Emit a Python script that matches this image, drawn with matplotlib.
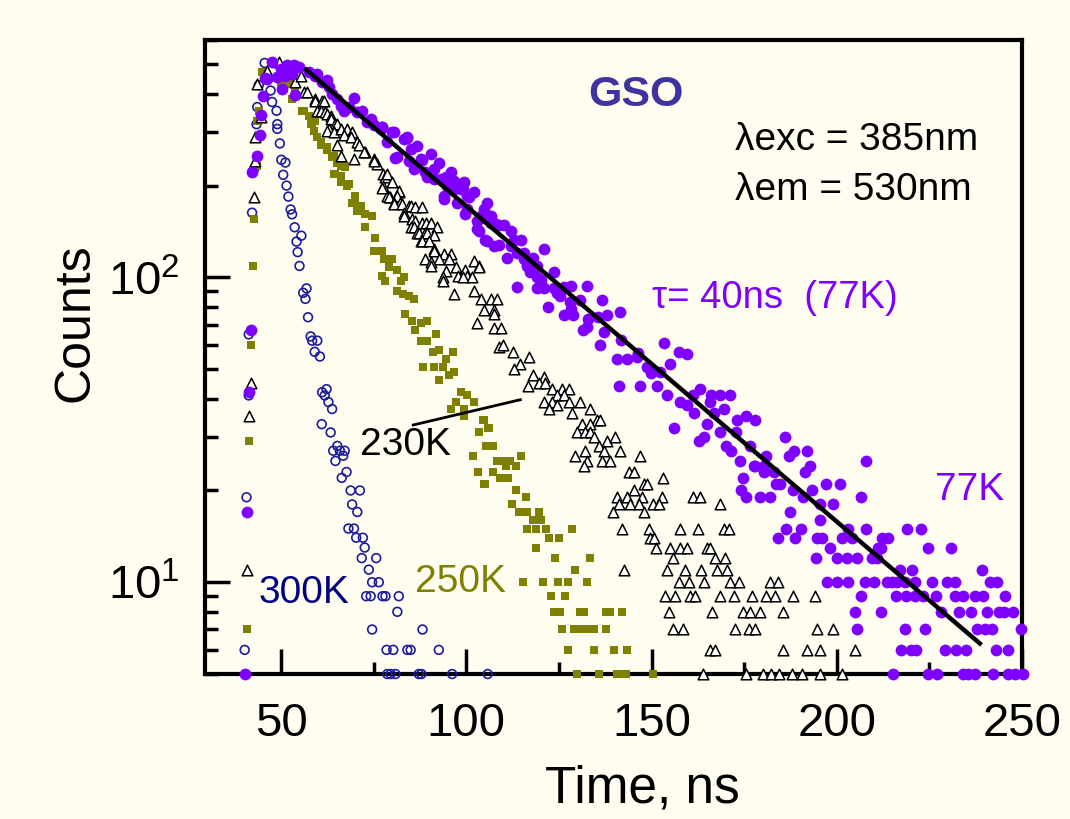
import numpy as np
import matplotlib.pyplot as plt
from matplotlib.ticker import FixedLocator, FixedFormatter, LogLocator, NullFormatter

plt.rcParams['font.family'] = ['Liberation Sans', 'DejaVu Sans']
plt.rcParams['mathtext.fontset'] = 'custom'
plt.rcParams['mathtext.rm'] = 'Liberation Sans'

# ---- data (time in ns, counts) ----
t_300 = [40.2, 40.7, 41.3, 41.3, 42.2, 42.7, 43.4, 43.6, 44.0, 45.6, 47.2, 47.6, 48.8, 49.0, 49.0,
         49.7, 50.1, 51.2, 50.6, 51.5, 52.0, 52.6, 53.0, 53.7, 55.5, 54.2, 54.5, 55.0,
         56.9, 56.0, 56.6, 57.3, 58.0, 58.4, 59.8, 59.1, 60.5, 61.1, 62.3, 61.8, 62.8, 63.8,
         61.0, 63.4, 65.2, 64.1, 65.9, 67.2, 64.7, 66.8, 67.7, 66.4, 68.8, 71.3, 69.2, 70.6,
         68.2, 69.7, 70.3, 72.1, 72.6, 71.8, 75.7, 73.7, 74.6, 76.4, 73.0, 74.2, 77.4, 78.2,
         81.8, 81.4, 74.6, 88.2, 78.5, 80.3, 84.1, 85.0, 92.6, 78.7, 79.6, 80.9, 87.2, 87.9,
         96.2, 105.8]
n_300 = [6, 19, 41, 65, 163, 226, 318, 362, 427, 505, 410, 376, 352, 318, 307,
         275, 243, 238, 217, 200, 184, 167, 161, 146, 137, 131, 121, 109,
         92, 89, 85, 74, 64, 62, 62, 57, 55, 42, 43, 41, 39, 37,
         33, 31, 28, 27, 27, 27, 25, 26, 23, 22, 20, 20, 18, 17,
         15, 15, 14, 14, 13, 12, 12, 11, 10, 10, 9, 9, 9, 9,
         9, 8, 7, 7, 6, 6, 6, 6, 6, 5, 5, 5, 5, 5,
         5, 5]

t_250 = [40.9, 41.5, 41.8, 42.5, 42.7, 43.4, 43.6, 44.0, 44.9,
         49.9, 52.1, 53.0, 53.9, 55.7, 56.2, 57.5, 58.0, 58.4, 59.3, 58.9, 59.8, 60.7, 60.7,
         62.5, 62.5, 63.8, 64.3, 65.2, 66.1, 67.4, 64.3, 64.7, 66.1, 66.1, 66.1, 67.4, 68.3,
         67.9, 70.1, 69.7, 71.0, 70.1, 69.3, 71.5, 70.6, 72.8, 74.6, 72.6, 75.5, 75.0, 77.3,
         77.7, 80.0, 79.1, 81.4, 77.3, 83.2, 78.2, 82.3, 81.4, 82.8, 84.5, 85.9, 83.6, 85.4,
         87.7, 89.5, 86.3, 87.7, 89.5, 91.8, 90.9, 92.6, 94.5, 88.2, 91.3, 93.6, 96.3, 96.7,
         95.4, 92.6, 98.5, 100.3, 97.2, 95.8, 99.4, 102.1, 99.4, 104.4, 104.8, 103.5, 105.8,
         106.1, 105.3, 107.1, 101.8, 114.7, 108.3, 110.6, 111.9, 108.8, 110.6, 113.3, 103.2,
         107.2, 109.0, 111.3, 104.8, 105.0, 113.3, 116.0, 112.4, 114.2, 116.5, 119.6, 117.9,
         120.1, 116.5, 118.7, 121.4, 128.5, 122.3, 125.0, 118.7, 124.0, 133.5, 129.4,
         115.3, 120.6, 124.7, 127.4, 132.7, 122.9, 126.7,
         123.6, 125.4, 130.8, 131.7, 137.6, 138.9, 142.0,
         125.8, 129.0, 130.8, 132.6, 134.4, 137.6,
         127.4, 134.4, 140.0, 143.4,
         129.9, 135.8, 140.7, 142.0, 143.0, 150.4]
n_250 = [7, 29, 60, 109, 155, 232, 326, 352, 471,
         437, 431, 385, 405, 352, 352, 339, 318, 318, 326, 303, 288, 277, 272,
         267, 261, 248, 251, 238, 232, 232, 218, 218, 215, 205, 208, 230, 202,
         200, 185, 176, 172, 181, 176, 172, 165, 161, 159, 146, 135, 122, 122,
         115, 115, 108, 106, 101, 100, 97, 97, 90, 88, 87, 85, 76, 72,
         71, 72, 67, 62, 62, 65, 57, 58, 54, 51, 51, 51, 57, 49,
         48, 46, 42, 41, 39, 37, 37, 39, 35, 34, 34, 31, 32,
         32, 28, 28, 26, 26, 25, 25, 25, 25, 24, 24, 23,
         23, 22, 22, 21, 21, 20, 19, 18, 17, 17, 17, 16,
         16, 15, 15, 15, 15, 14, 14, 13, 12, 12, 11,
         10, 10, 10, 10, 10, 9, 9,
         8, 8, 8, 8, 8, 8, 8,
         7, 7, 7, 7, 7, 7,
         6, 6, 6, 6,
         5, 5, 5, 5, 5, 5]

t_230 = [40.9, 41.3, 41.8, 42.6, 43.1, 43.1, 44.5, 43.6, 46.3, 49.4,
         52.1, 53.9, 55.3, 56.2, 57.1, 59.3, 59.3, 61.1, 61.6, 59.8, 60.7, 62.0, 62.5, 63.4,
         63.4, 64.7, 65.2, 62.9, 62.5, 64.3, 66.1, 67.9, 69.2, 67.0, 68.8, 70.6, 65.2, 71.0,
         72.8, 72.4, 66.1, 69.7, 75.1, 76.0, 75.1, 77.4, 78.2, 78.7, 77.6, 78.7, 77.3, 80.0,
         81.8, 81.8, 79.5, 79.1, 81.4, 80.4, 82.2, 80.4, 82.7, 84.5, 85.0, 86.3, 88.1, 83.2,
         83.2, 85.4, 86.3, 88.1, 89.1, 90.4, 85.0, 85.9, 92.0, 86.8, 87.2, 89.0, 89.5, 91.3,
         87.7, 88.1, 89.9, 91.3, 91.3, 94.0, 95.8, 89.0, 92.6, 95.4, 90.4, 90.4, 102.0, 103.4,
         103.4, 97.2, 94.5, 99.7, 97.9, 100.1, 101.6, 93.6, 99.0, 93.6, 96.7, 102.0, 104.0,
         106.6, 108.3, 104.9, 107.6, 107.6, 102.9, 107.6, 109.3, 108.8,
         110.0, 112.5, 114.5, 117.0, 113.0, 118.0, 121.0,
         116.8, 119.5, 121.3, 123.1, 125.8, 127.6, 124.5, 126.3, 121.0, 123.2, 124.6, 127.7,
         130.8, 133.5, 122.3, 128.6, 135.3, 136.2, 131.2, 133.5, 129.9, 132.1, 133.5, 134.4,
         138.0, 140.2, 135.8, 137.1, 141.6, 129.4, 132.1, 132.6, 136.6, 138.9, 147.0, 131.7,
         143.8, 145.2, 153.2, 147.9, 148.8, 145.2,
         140.7, 143.4, 147.4, 152.8, 161.3, 163.1,
         141.1, 144.3, 146.5, 150.5, 151.9, 168.4,
         139.6, 147.9,
         142.0, 149.2, 157.6, 162.6, 169.5, 170.8,
         149.7, 150.6,
         151.1, 155.1, 157.8, 159.6, 165.0, 165.7,
         155.7, 167.2, 169.9,
         142.5, 154.2, 159.1, 163.3, 167.6, 170.4,
         157.3, 160.0, 164.2, 171.2, 173.5, 182.0, 184.0,
         153.7, 156.4, 160.4, 161.8, 168.6, 172.2, 177.1, 181.0, 183.2, 188.3, 194.2,
         154.6, 166.3, 174.6, 176.6, 179.3, 185.6,
         155.9, 158.6, 172.6, 176.2, 178.0, 194.6, 199.1,
         165.9, 167.2, 185.6, 191.9, 195.5, 204.8,
         164.0, 175.5, 180.2, 182.3, 184.5, 187.9, 190.6, 195.4, 201.4]
n_230 = [11, 35, 45, 183, 241, 288, 335, 431, 477, 508,
         490, 437, 459, 405, 405, 385, 380, 380, 380, 352, 352, 349, 344, 339,
         331, 318, 318, 307, 303, 299, 307, 307, 299, 292, 288, 277, 272, 272,
         257, 257, 251, 244, 244, 235, 241, 218, 213, 218, 199, 185, 197, 205,
         190, 192, 183, 183, 185, 176, 176, 174, 174, 172, 172, 170, 170, 163,
         159, 155, 153, 151, 151, 151, 146, 146, 146, 140, 140, 140, 140, 138,
         132, 132, 132, 124, 122, 119, 119, 115, 115, 115, 112, 109, 113, 109,
         108, 108, 105, 106, 101, 101, 100, 100, 100, 97, 88, 90, 85,
         85, 85, 78, 78, 76, 71, 68, 68, 59,
         60, 57, 52, 55, 50, 48, 47,
         44, 45, 45, 43, 43, 43, 41, 41, 39, 39, 38, 39,
         39, 37, 37, 36, 34, 34, 33, 33, 31, 31, 31, 30,
         29, 30, 28, 27, 27, 26, 27, 25, 25, 25, 26, 24,
         23, 23, 22, 21, 21, 20,
         19, 19, 19, 19, 19, 19,
         18, 18, 18, 18, 18, 18,
         17, 17,
         15, 15, 15, 15, 15, 15,
         14, 14,
         13, 13, 13, 13, 13, 13,
         12, 12, 12,
         11, 11, 11, 11, 11, 11,
         10, 10, 10, 10, 10, 10, 10,
         9, 9, 9, 9, 9, 9, 9, 9, 9, 9, 9,
         8, 8, 8, 8, 8, 8,
         7, 7, 7, 7, 7, 7, 7,
         6, 6, 6, 6, 6, 6,
         5, 5, 5, 5, 5, 5, 5, 5, 5]

t_77 = [40.2, 40.9, 41.5, 41.8, 42.2, 43.6, 44.3, 44.7, 45.2, 45.8, 46.3,
        47.6, 49.9, 51.7, 53.5, 54.8, 49.0, 51.2, 53.0, 50.3, 53.9,
        57.6, 59.8, 62.3, 62.9, 65.2, 69.7, 67.0, 71.9, 73.3, 76.9, 77.3, 80.5, 84.1, 84.1,
        78.7, 85.0, 81.4, 80.9, 84.5, 87.7, 88.1, 85.9, 91.3, 89.0, 89.5, 93.1, 91.3, 94.5,
        94.9, 96.7, 94.9, 94.0, 96.7, 98.5, 99.0, 100.3, 100.7, 97.6, 102.0, 105.6, 94.0,
        100.3, 104.0, 99.7, 103.9, 102.9, 107.5, 106.6, 108.0, 110.2, 102.9, 103.5, 112.0,
        105.1, 114.7, 105.6, 107.5, 108.8, 112.0, 113.8, 121.0, 111.0, 115.6, 117.9, 116.5,
        119.2, 117.3, 123.7, 119.2, 113.8, 119.2, 121.0, 123.7, 126.4, 128.3, 132.6, 125.4,
        130.8, 136.6, 128.1, 122.0, 141.6, 128.9, 126.4, 137.9, 135.6, 132.5, 131.6, 153.3,
        136.1, 157.4, 159.6, 146.0, 140.6, 143.4, 155.1, 148.8, 152.4,
        59.3, 61.1, 63.8, 66.1, 68.3, 70.6, 74.2, 75.1, 77.3, 80.0, 83.2, 86.8, 90.4, 92.6,
        95.8, 99.4, 104.8, 106.6, 108.8, 112.8, 115.6, 117.4, 120.1, 124.6, 128.3, 132.8,
        137.3, 141.8, 146.3, 149.9,
        141.1, 146.9, 151.4, 163.2, 154.1, 161.3, 166.0, 168.6, 171.3, 157.8, 165.9, 159.6,
        166.8, 169.5, 161.4, 175.4, 178.0, 173.1, 164.9, 156.2, 168.6, 172.7, 164.1, 186.1,
        162.7, 170.0, 176.7, 171.4, 188.4, 191.9, 187.0, 181.0, 174.0, 208.0, 177.6, 180.3,
        178.0, 192.8, 180.3, 183.0, 191.5, 174.7, 183.7, 184.6, 197.2, 200.8, 174.2, 188.2,
        193.2, 175.6, 179.2, 181.9, 190.9, 206.6, 195.5, 199.1, 187.4, 195.5, 186.4, 190.4,
        203.1, 208.0, 219.0, 222.6, 184.2, 188.7, 194.6, 195.9, 201.4, 204.0, 212.1, 213.9,
        198.1, 211.1, 212.0, 224.6, 230.9, 194.5, 200.1, 202.8, 205.5, 209.6, 210.9,
        217.1, 220.3, 239.1,
        197.3, 200.1, 203.1, 207.6, 210.0, 213.5, 214.8, 216.2, 218.4, 221.1, 225.6, 229.7,
        231.9, 241.4, 243.2,
        206.5, 216.0, 218.7, 221.0, 223.2, 226.8, 231.8, 234.0, 237.2, 239.5, 245.3,
        204.8, 212.0, 228.0, 232.9, 236.1, 240.6, 243.7, 245.1, 247.6,
        205.4, 218.3, 223.7, 237.8, 240.1, 241.8, 249.7,
        217.4, 219.9, 221.4, 229.1, 232.3, 235.0, 243.1, 246.3,
        215.3, 224.7, 227.0, 234.0, 235.5, 237.3, 242.2, 246.3, 248.1, 250.2]
n_77 = [5, 17, 42, 67, 221, 251, 293, 341, 393, 451, 449,
        508, 483, 496, 496, 490, 454, 459, 465, 415, 397,
        471, 465, 443, 421, 385, 388, 352, 352, 323, 307, 311, 299, 288, 286,
        277, 264, 248, 246, 241, 244, 243, 226, 226, 221, 213, 210, 210, 213,
        205, 207, 200, 185, 195, 195, 195, 185, 183, 176, 190, 176, 181,
        167, 159, 161, 157, 153, 151, 151, 148, 148, 144, 142, 142,
        133, 133, 132, 127, 128, 127, 120, 124, 116, 115, 116, 109,
        109, 104, 104, 100, 93, 92, 92, 92, 93, 94, 94, 87,
        84, 84, 83, 80, 77, 75, 75, 75, 74, 69, 67, 61,
        60, 57, 56, 55, 54, 54, 52, 51, 49,
        459, 437, 400, 366, 362, 348, 331, 315, 311, 299, 284, 270, 254, 238,
        221, 205, 167, 159, 148, 133, 120, 109, 98, 89, 78.5, 73,
        66, 62.5, 56.5, 48.6,
        44, 44, 44, 43, 41, 41, 41, 41, 41, 39, 39, 38,
        36, 37, 36, 35, 34, 34, 33, 32, 31, 31, 30, 30,
        29, 28, 28, 27, 27, 27, 26, 26, 25, 25, 24, 24,
        24, 24, 23, 23, 23, 22, 21, 21, 21, 21, 20, 20,
        20, 19, 19, 19, 19, 19, 18, 18, 17, 16, 15, 15,
        15, 15, 15, 15, 14, 14, 14, 14, 14, 14, 14, 14,
        13, 13, 13, 13, 13, 12, 12, 12, 12, 12, 12,
        11, 11, 11,
        10, 10, 10, 10, 10, 10, 10, 10, 10, 10, 10, 10,
        10, 10, 10,
        9, 9, 9, 9, 9, 9, 9, 9, 9, 9, 9,
        8, 8, 8, 8, 8, 8, 8, 8, 8,
        7, 7, 7, 7, 7, 7, 7,
        6, 6, 6, 6, 6, 6, 6, 6,
        5, 5, 5, 5, 5, 5, 5, 5, 5, 5]

# single-exponential fit (tau ~ 40 ns) end points, and 230K pointer line
fit_t = [56.8, 238.6]
fit_n = [480, 6.3]
ptr_t = [85.7, 114.6]
ptr_n = [32.8, 39.7]

bg = '#FFFDF0'
purple = '#8000FF'
olive = '#808000'
navy = '#1C1C9C'

fig = plt.figure(figsize=(10.7, 8.19), dpi=100, facecolor=bg)
ax = fig.add_axes([0.1916, 0.177, 0.7636, 0.774], facecolor=bg)

ax.scatter(t_300, n_300, s=40, marker='o', facecolors='none', edgecolors=navy,
           linewidths=1.2, clip_on=False, zorder=3)
ax.scatter(t_250, n_250, s=36, marker='s', color=olive, linewidths=0, clip_on=False, zorder=3)
ax.scatter(t_230, n_230, s=58, marker='^', facecolors='white', edgecolors='black',
           linewidths=1.1, clip_on=False, zorder=4)
ax.scatter(t_77, n_77, s=72, marker='o', color=purple, linewidths=0, clip_on=False, zorder=5)
ax.plot(fit_t, fit_n, color='black', lw=3.2, zorder=6)
ax.plot(ptr_t, ptr_n, color='black', lw=2, zorder=6)

ax.set_yscale('log')
ax.set_xlim(29.5, 250)
ax.set_ylim(5, 600)

ax.xaxis.set_major_locator(FixedLocator([50, 100, 150, 200, 250]))
ax.xaxis.set_minor_locator(FixedLocator([75, 125, 175, 225]))
ax.yaxis.set_major_locator(FixedLocator([10, 100]))
ax.yaxis.set_major_formatter(FixedFormatter([r'$\mathregular{10^{1}}$', r'$\mathregular{10^{2}}$']))
ax.yaxis.set_minor_locator(LogLocator(base=10, subs=np.arange(2, 10)))
ax.yaxis.set_minor_formatter(NullFormatter())

ax.tick_params(which='both', direction='in', top=False, right=False, width=2.5, colors='black')
ax.tick_params(which='major', length=18, labelsize=34)
ax.tick_params(which='minor', length=9)
ax.tick_params(axis='x', which='major', pad=20)
ax.tick_params(axis='y', which='major', pad=18)
for sp in ax.spines.values():
    sp.set_linewidth(3)

ax.set_xlabel('Time, ns', fontsize=37)
ax.xaxis.set_label_coords(0.535, -0.181)
ax.xaxis.label.set_va('center')
ax.set_ylabel('Counts', fontsize=36)
ax.yaxis.set_label_coords(-0.159, 0.554)
ax.yaxis.label.set_va('center')

ax.text(0.5275, 0.913, 'GSO', transform=ax.transAxes, fontsize=31, fontweight='bold',
        color='#3F33A0', ha='center', va='center')
ax.text(0.649, 0.842, 'λexc = 385nm', transform=ax.transAxes, fontsize=28, va='center')
ax.text(0.649, 0.763, 'λem = 530nm', transform=ax.transAxes, fontsize=28, va='center')
ax.text(0.547, 0.593, 'τ= 40ns  (77K)', transform=ax.transAxes, fontsize=27.5,
        color=purple, va='center')
ax.text(0.8935, 0.290, '77K', transform=ax.transAxes, fontsize=28, color=purple, va='center')
ax.text(0.19, 0.361, '230K', transform=ax.transAxes, fontsize=28, color='black', va='center')
ax.text(0.257, 0.145, '250K', transform=ax.transAxes, fontsize=28, color=olive, va='center')
ax.text(0.065, 0.128, '300K', transform=ax.transAxes, fontsize=28, color='#000080', va='center')

fig.savefig('out.png', dpi=100, facecolor=bg)
